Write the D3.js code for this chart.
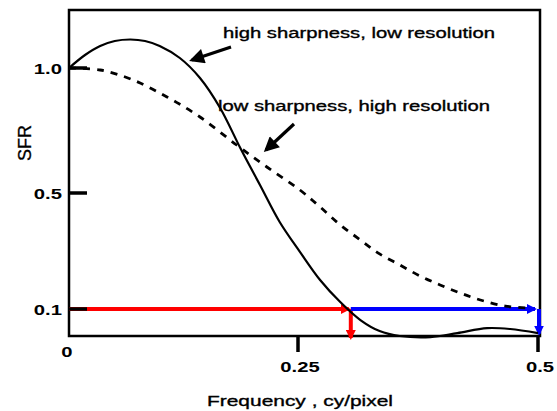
<!DOCTYPE html>
<html><head><meta charset="utf-8">
<script src="https://cdn.jsdelivr.net/npm/d3@7"></script>
<style>html,body{margin:0;padding:0;background:#fff;}svg{display:block;font-family:"Liberation Sans",Arial,sans-serif;}</style>
</head><body>
<svg id="c" width="557" height="411"></svg>
<script>
// ---- data ----
const xTickValues = [0, 0.25, 0.5];
const xTickLabels = ["0", "0.25", "0.5"];
const yTickValues = [1.0, 0.5, 0.1];
const yTickLabels = ["1.0", "0.5", "0.1"];
const sharpFreq = [0, 0.0175, 0.034, 0.050, 0.067, 0.083, 0.099, 0.121, 0.143, 0.165, 0.187, 0.2085, 0.230, 0.252, 0.273, 0.294, 0.315, 0.335, 0.356, 0.388, 0.416, 0.447, 0.471, 0.5];
const sharpSFR  = [1.0, 1.052, 1.088, 1.108, 1.114, 1.108, 1.088, 1.04, 0.96, 0.84, 0.68, 0.532, 0.40, 0.297, 0.200, 0.124, 0.062, 0.024, 0.007, 0.003, 0.017, 0.034, 0.031, 0.017];
const softFreq = [0, 0.034, 0.070, 0.107, 0.143, 0.183, 0.216, 0.252, 0.273, 0.294, 0.315, 0.335, 0.356, 0.377, 0.398, 0.419, 0.440, 0.466, 0.492];
const softSFR  = [1.0, 0.992, 0.952, 0.884, 0.804, 0.692, 0.604, 0.512, 0.452, 0.390, 0.338, 0.290, 0.252, 0.214, 0.183, 0.155, 0.131, 0.110, 0.103];
const sfrLimit = 0.1;
const redCutoff = 0.305;   // limiting resolution of the sharp curve
const blueCutoff = 0.5;    // limiting resolution of the soft curve
const redDrop = 0.0;
const blueDrop = 0.015;
const annoTexts = ["high sharpness, low resolution", "low sharpness, high resolution"];

// ---- scales (schematic, piecewise) ----
const x = d3.scaleLinear().domain([0, 0.25, 0.5]).range([69, 298, 538]);
const y = d3.scaleLinear().domain([0.1, 0.5, 1.0]).range([309, 193, 68]);
const svg = d3.select("#c");
const SX = 1.35;
function txt(px, py, s, anchor, size, weight, sx) {
  return svg.append("text").attr("transform", `translate(${px},${py}) scale(${sx || SX},1)`)
    .attr("text-anchor", anchor).attr("font-size", size).attr("font-weight", weight || "normal")
    .attr("fill", "#000").attr("stroke", "#000").attr("stroke-width", weight === "bold" ? 0 : 0.35).text(s);
}

const defs = svg.append("defs");
function mk(id, color, w, h) {
  defs.append("marker").attr("id", id).attr("viewBox", "0 0 10 10").attr("refX", 8).attr("refY", 5)
    .attr("markerUnits", "userSpaceOnUse").attr("markerWidth", w).attr("markerHeight", h).attr("orient", "auto")
    .append("path").attr("d", "M0,0 L10,5 L0,10 Z").attr("fill", color);
}
mk("aRed", "#ff0000", 10, 10);
mk("aBlue", "#0000ff", 10, 10);
mk("aBlack", "#000", 18, 15);

// frame
const L = 69, T = 10, R = 540, B = 336;
svg.append("rect").attr("x", L).attr("y", T).attr("width", R - L).attr("height", B - T)
  .attr("fill", "none").attr("stroke", "#000").attr("stroke-width", 2.5);

// red & blue resolution guides
svg.append("line").attr("x1", x(0)).attr("x2", x(redCutoff) - 2).attr("y1", y(sfrLimit)).attr("y2", y(sfrLimit))
  .attr("stroke", "#ff0000").attr("stroke-width", 4).attr("marker-end", "url(#aRed)");
svg.append("line").attr("x1", x(redCutoff)).attr("x2", x(redCutoff)).attr("y1", y(sfrLimit)).attr("y2", y(redDrop))
  .attr("stroke", "#ff0000").attr("stroke-width", 4).attr("marker-end", "url(#aRed)");
svg.append("line").attr("x1", x(redCutoff)).attr("x2", x(blueCutoff) - 3).attr("y1", y(sfrLimit)).attr("y2", y(sfrLimit))
  .attr("stroke", "#0000ff").attr("stroke-width", 4).attr("marker-end", "url(#aBlue)");
svg.append("line").attr("x1", x(blueCutoff) + 1).attr("x2", x(blueCutoff) + 1).attr("y1", y(sfrLimit)).attr("y2", y(blueDrop))
  .attr("stroke", "#0000ff").attr("stroke-width", 4).attr("marker-end", "url(#aBlue)");

// curves
const line = d3.line().x(d => x(d[0])).y(d => y(d[1])).curve(d3.curveCatmullRom.alpha(0.5));
svg.append("path").attr("d", line(sharpFreq.map((f, i) => [f, sharpSFR[i]])))
  .attr("fill", "none").attr("stroke", "#000").attr("stroke-width", 2.2);
svg.append("path").attr("d", line(softFreq.map((f, i) => [f, softSFR[i]])))
  .attr("fill", "none").attr("stroke", "#000").attr("stroke-width", 2.8).attr("stroke-dasharray", "7,7");

// y ticks (inside)
yTickValues.forEach((v, i) => {
  svg.append("line").attr("x1", L).attr("x2", L + 18).attr("y1", y(v)).attr("y2", y(v))
    .attr("stroke", "#000").attr("stroke-width", 3.5);
  txt(L - 7, y(v) + 6, yTickLabels[i], "end", 15, "bold");
});
// x ticks (outside)
xTickValues.forEach((v, i) => {
  if (v > 0) {
    svg.append("line").attr("x1", x(v)).attr("x2", x(v)).attr("y1", B).attr("y2", B + 16)
      .attr("stroke", "#000").attr("stroke-width", 3.5);
    txt(x(v) + 2, 372, xTickLabels[i], "middle", 15, "bold");
  } else {
    txt(x(v) - 2, 357, xTickLabels[i], "middle", 15, "bold");
  }
});

// axis titles
txt(300, 406, "Frequency , cy/pixel", "middle", 15.5);
svg.append("text").attr("transform", "translate(31,143) rotate(-90)").attr("text-anchor", "middle")
  .attr("font-size", 18).attr("fill", "#000").attr("stroke", "#000").attr("stroke-width", 0.3).text("SFR");

// annotations
txt(223, 38, annoTexts[0], "start", 15);
txt(218, 111, annoTexts[1], "start", 15);
svg.append("line").attr("x1", 231).attr("y1", 47).attr("x2", 192).attr("y2", 60)
  .attr("stroke", "#000").attr("stroke-width", 3.2).attr("marker-end", "url(#aBlack)");
svg.append("line").attr("x1", 294).attr("y1", 124).attr("x2", 266).attr("y2", 150)
  .attr("stroke", "#000").attr("stroke-width", 3.2).attr("marker-end", "url(#aBlack)");
</script>
</body></html>
